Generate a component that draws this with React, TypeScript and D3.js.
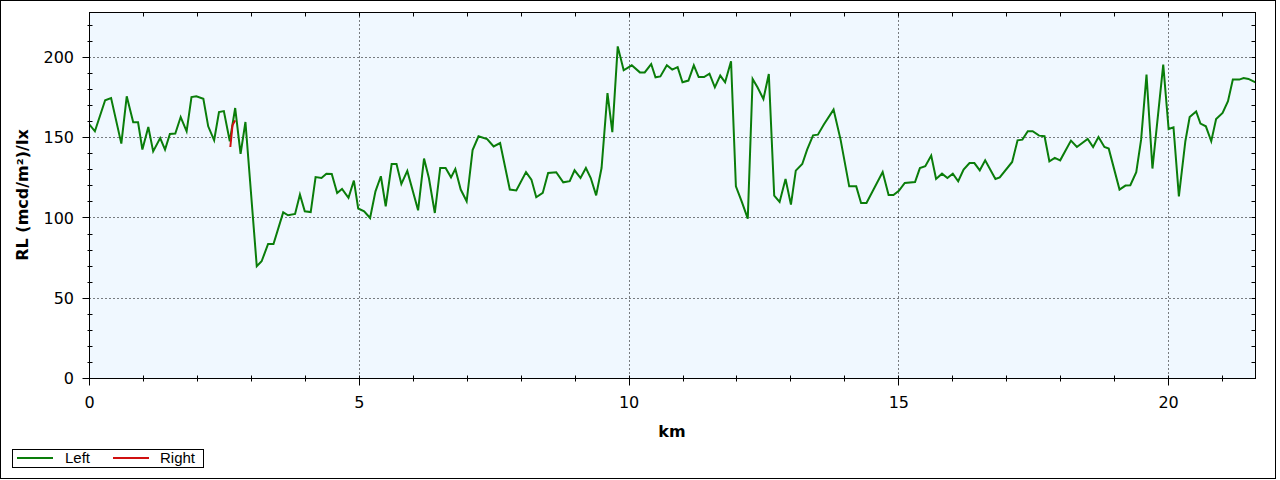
import React from "react";
import * as d3 from "d3";

// ---- Data ----
const leftKm = [
  0.0, 0.1, 0.29, 0.4, 0.59, 0.69, 0.81, 0.9, 0.98, 1.09, 1.18, 1.31, 1.4, 1.49, 1.59, 1.69, 1.8, 1.89, 1.98, 2.11,
  2.2, 2.31, 2.4, 2.49, 2.6, 2.7, 2.8, 2.89, 3.1, 3.19, 3.31, 3.41, 3.59, 3.68, 3.81, 3.9, 3.99, 4.1, 4.19, 4.3,
  4.39, 4.49, 4.59, 4.68, 4.8, 4.9, 4.98, 5.09, 5.2, 5.3, 5.4, 5.49, 5.6, 5.69, 5.78, 5.89, 6.09, 6.2, 6.29, 6.4,
  6.5, 6.6, 6.7, 6.78, 6.88, 6.99, 7.1, 7.21, 7.37, 7.49, 7.61, 7.79, 7.91, 8.09, 8.19, 8.28, 8.4, 8.5, 8.65, 8.78,
  8.9, 8.99, 9.1, 9.2, 9.29, 9.39, 9.49, 9.6, 9.69, 9.79, 9.9, 10.05, 10.2, 10.29, 10.41, 10.49, 10.58, 10.7, 10.8, 10.9,
  10.99, 11.1, 11.2, 11.29, 11.39, 11.49, 11.59, 11.69, 11.78, 11.89, 11.98, 12.09, 12.2, 12.29, 12.38, 12.49, 12.59, 12.69, 12.79, 12.9,
  13.0, 13.09, 13.21, 13.3, 13.41, 13.5, 13.61, 13.79, 13.92, 14.08, 14.21, 14.3, 14.4, 14.7, 14.81, 14.9, 15.0, 15.11, 15.3, 15.39,
  15.49, 15.6, 15.69, 15.8, 15.9, 16.0, 16.1, 16.2, 16.31, 16.4, 16.5, 16.6, 16.79, 16.87, 17.1, 17.2, 17.29, 17.39, 17.48, 17.6,
  17.7, 17.79, 17.89, 17.99, 18.19, 18.3, 18.5, 18.6, 18.7, 18.81, 18.89, 19.09, 19.2, 19.29, 19.4, 19.49, 19.59, 19.7, 19.9, 20.0,
  20.09, 20.19, 20.31, 20.39, 20.51, 20.59, 20.69, 20.79, 20.88, 21.0, 21.1, 21.19, 21.31, 21.39, 21.48, 21.61
];
const leftRL = [
  158.2, 154.0, 173.3, 174.7, 146.3, 175.8, 159.6, 159.6, 142.6, 156.7, 141.5, 149.8, 142.6, 152.3, 152.6, 162.9, 154.0, 175.3, 175.8, 174.3,
  157.1, 148.4, 166.0, 166.6, 147.8, 168.5, 139.9, 159.8, 69.9, 73.0, 83.8, 83.8, 103.5, 101.7, 102.5, 114.6, 104.2, 103.7, 125.5, 124.9,
  127.6, 127.4, 115.6, 118.1, 112.5, 123.3, 105.9, 104.2, 100.0, 116.6, 126.0, 107.3, 133.6, 133.6, 121.2, 129.3, 104.8, 137.0, 124.9, 103.1,
  131.1, 131.1, 125.3, 130.5, 117.7, 110.4, 142.3, 150.9, 149.2, 144.6, 146.7, 117.7, 117.1, 128.6, 123.9, 112.9, 115.6, 128.0, 128.5, 122.2,
  122.9, 129.7, 124.9, 131.1, 124.9, 114.1, 131.1, 177.8, 153.5, 206.9, 192.0, 195.1, 190.7, 190.7, 195.9, 187.6, 188.2, 195.1, 192.4, 194.0,
  184.5, 185.6, 195.1, 187.8, 187.8, 189.9, 181.4, 188.7, 184.5, 197.6, 119.7, 110.0, 99.6, 186.6, 181.4, 174.1, 189.7, 113.9, 110.0, 124.3,
  108.3, 129.5, 133.6, 142.6, 151.5, 151.9, 158.2, 167.5, 148.8, 119.7, 119.7, 109.3, 109.3, 128.6, 114.3, 114.3, 116.9, 121.8, 122.4, 131.1,
  132.2, 138.9, 124.3, 127.6, 124.9, 127.6, 122.9, 130.1, 134.2, 134.2, 129.7, 135.9, 124.3, 125.3, 134.9, 148.4, 148.8, 154.0, 154.0, 151.3,
  150.9, 135.3, 137.4, 135.9, 148.2, 144.2, 149.2, 144.2, 150.4, 144.2, 143.2, 117.7, 120.2, 120.4, 128.5, 148.8, 189.3, 130.8, 195.5, 155.4,
  156.5, 113.5, 147.8, 162.9, 166.4, 158.8, 157.1, 147.8, 161.6, 165.4, 172.7, 186.2, 186.2, 187.2, 186.6, 184.5
];
const rightKm = [2.61, 2.65, 2.7];
const rightRL = [144.2, 157.7, 160.8];

const seriesNames = ["Left", "Right"];
const seriesColors = ["#0a7d0a", "#d01010"];
const xMajorTicks = [0, 5, 10, 15, 20];
const yMajorTicks = [0, 50, 100, 150, 200];

const W = 1280;
const H = 480;
const PL = 89.5;
const PR = 1255.5;
const PT = 12.5;
const PB = 378.5;

const x = d3.scaleLinear().domain([0, 21.61]).range([PL, PR]);
const y = d3.scaleLinear().domain([0, 228]).range([PB, PT]);
const snap = (v: number) => Math.round(v - 0.5) + 0.5;

const xMinor = d3.range(0, 22, 1);
const yMinor = d3.range(0, 229, 10);

const line = d3
  .line<[number, number]>()
  .x((d) => x(d[0]))
  .y((d) => y(d[1]));

const leftPts: [number, number][] = leftKm.map((k, i) => [k, leftRL[i]]);
const rightPts: [number, number][] = rightKm.map((k, i) => [k, rightRL[i]]);

const tickFont = "'DejaVu Sans', Verdana, sans-serif";

export default function App() {
  return (
    <svg
      width={W}
      height={H}
      style={{ position: "absolute", left: 0, top: 0, background: "#fff" }}
      xmlns="http://www.w3.org/2000/svg"
    >
      <defs>
        <clipPath id="plotclip">
          <rect x={PL} y={PT} width={PR - PL} height={PB - PT} />
        </clipPath>
      </defs>
      <rect x={0} y={0} width={W} height={H} fill="#fff" />
      <rect x={0.5} y={0.5} width={1275} height={478} fill="none" stroke="#000" strokeWidth={1} />

      {/* plot background */}
      <rect x={PL} y={PT} width={PR - PL} height={PB - PT} fill="#F0F8FF" />

      {/* grid */}
      {yMajorTicks.filter((t) => t > 0).map((t) => (
        <line key={"gy" + t} x1={PL} x2={PR} y1={snap(y(t))} y2={snap(y(t))} stroke="#000" strokeWidth={1} strokeDasharray="1,3" />
      ))}
      {xMajorTicks.filter((t) => t > 0).map((t) => (
        <line key={"gx" + t} y1={PT} y2={PB} x1={snap(x(t))} x2={snap(x(t))} stroke="#000" strokeWidth={1} strokeDasharray="1,3" />
      ))}

      {/* series */}
      <g clipPath="url(#plotclip)">
        <path d={line(leftPts) || ""} fill="none" stroke={seriesColors[0]} strokeWidth={2} strokeLinejoin="miter" />
        <path d={line(rightPts) || ""} fill="none" stroke={seriesColors[1]} strokeWidth={2} />
      </g>

      {/* frame of plot */}
      <rect x={PL} y={PT} width={PR - PL} height={PB - PT} fill="none" stroke="#000" strokeWidth={1} />

      {/* left axis ticks */}
      {yMinor.map((t) => {
        const major = t % 50 === 0;
        const yy = snap(y(t));
        return (
          <g key={"ly" + t}>
            {major ? (
              <line x1={PL - 7} x2={PL} y1={yy} y2={yy} stroke="#000" />
            ) : (
              <line x1={PL - 2} x2={PL + 3} y1={yy} y2={yy} stroke="#000" />
            )}
            <line x1={PR - 4} x2={PR} y1={yy} y2={yy} stroke="#000" />
          </g>
        );
      })}
      {yMajorTicks.map((t) => (
        <text key={"lyl" + t} x={74} y={y(t)} dy="0.36em" textAnchor="end" fontFamily={tickFont} fontSize={16} fill="#000">
          {t}
        </text>
      ))}

      {/* bottom axis ticks */}
      {xMinor.map((t) => {
        const major = t % 5 === 0;
        const xx = snap(x(t));
        return (
          <g key={"bx" + t}>
            <line x1={xx} x2={xx} y1={PB - 3} y2={PB + (major ? 7 : 3)} stroke="#000" />
            <line x1={xx} x2={xx} y1={PT} y2={PT + 4} stroke="#000" />
          </g>
        );
      })}
      {xMajorTicks.map((t) => (
        <text key={"bxl" + t} x={x(t)} y={408} textAnchor="middle" fontFamily={tickFont} fontSize={16} fill="#000">
          {t}
        </text>
      ))}

      {/* axis titles */}
      <text x={672} y={437} textAnchor="middle" fontFamily={tickFont} fontWeight="bold" fontSize={16} fill="#000">
        km
      </text>
      <text
        transform={`translate(28,195) rotate(-90)`}
        textAnchor="middle"
        fontFamily={tickFont}
        fontWeight="bold"
        fontSize={16}
        fill="#000"
      >
        RL (mcd/m²)/lx
      </text>

      {/* legend */}
      <rect x={12.5} y={449.5} width={191} height={18} fill="#fff" stroke="#000" />
      <line x1={17} x2={53} y1={458} y2={458} stroke={seriesColors[0]} strokeWidth={2} />
      <text x={65} y={463} fontFamily="'Liberation Sans', Arial, sans-serif" fontSize={15} fill="#000">
        {seriesNames[0]}
      </text>
      <line x1={113} x2={149} y1={458} y2={458} stroke={seriesColors[1]} strokeWidth={2} />
      <text x={160} y={463} fontFamily="'Liberation Sans', Arial, sans-serif" fontSize={15} fill="#000">
        {seriesNames[1]}
      </text>
    </svg>
  );
}
